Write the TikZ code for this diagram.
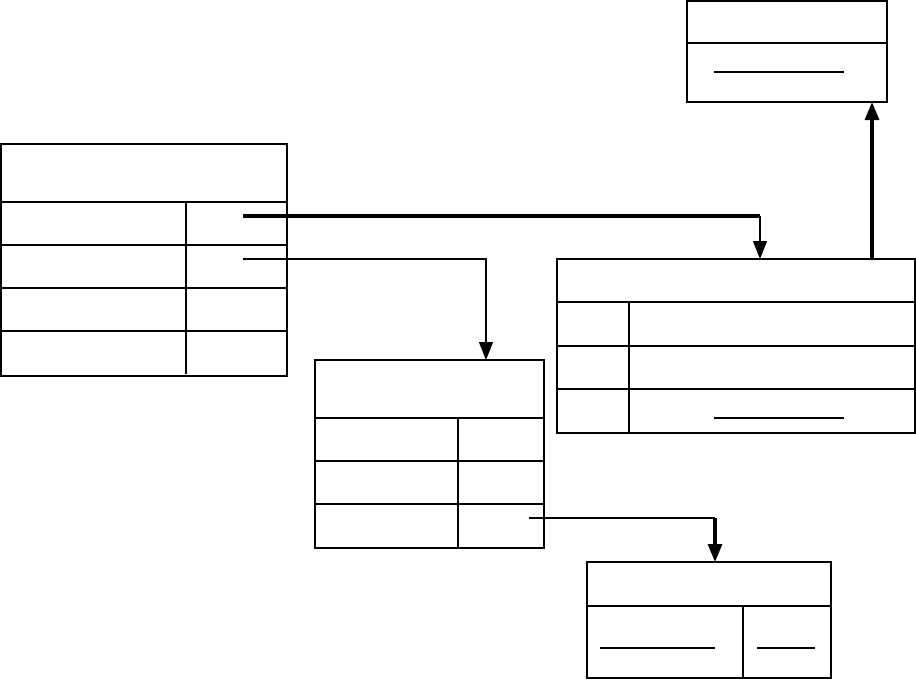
\documentclass[tikz,border=0pt]{standalone}
\usetikzlibrary{arrows.meta}
\begin{document}
\begin{tikzpicture}[x=0.75pt,y=-0.75pt,
  tbl/.style={draw,line width=0.85pt,inner sep=0pt,outer sep=0pt,rectangle},
  sep/.style={line width=0.85pt},
  thickdiv/.style={line width=2.1pt},
  ul/.style={line width=0.85pt},
  link/.style={line width=0.85pt},
  boldlink/.style={line width=2.3pt},
  tip/.style={-{Triangle[length=13.5pt,width=10.5pt]}}]
\useasboundingbox (0,0) rectangle (916,679);
% tables
\node[tbl,minimum width=214.5pt,minimum height=174pt] (A) at (144,260) {};
\node[tbl,minimum width=150pt,minimum height=75.75pt] (B) at (787,51.5) {};
\node[tbl,minimum width=268.5pt,minimum height=130.5pt] (C) at (736,346) {};
\node[tbl,minimum width=171.75pt,minimum height=141pt] (D) at (429.5,454) {};
\node[tbl,minimum width=183pt,minimum height=87pt] (E) at (709,620) {};
% table A rows
\foreach \yy in {202,245,288,331}
  \draw[sep] (A.west |- 0,\yy) -- (A.east |- 0,\yy);
\draw[sep] (186,202) -- (186,374);
% table B
\draw[sep] (B.west |- 0,43) -- (B.east |- 0,43);
\draw[ul] (714,72) -- (844,72);
% table C
\foreach \yy in {302,346,389}
  \draw[sep] (C.west |- 0,\yy) -- (C.east |- 0,\yy);
\draw[sep] (629,302) -- (629,433);
\draw[ul] (714,418) -- (844,418);
% table D
\foreach \yy in {418,461,504}
  \draw[sep] (D.west |- 0,\yy) -- (D.east |- 0,\yy);
\draw[thickdiv] (458,418) -- (458,548);
% table E
\draw[sep] (E.west |- 0,606) -- (E.east |- 0,606);
\draw[thickdiv] (743,606) -- (743,678);
\draw[ul] (600,648) -- (715,648);
\draw[ul] (757,648) -- (815,648);
% connectors
\coordinate (a1) at (243,216);
\coordinate (k1) at (760,216);
\coordinate (a2) at (243,259);
\coordinate (k2) at (486,259);
\coordinate (d3) at (529,518);
\coordinate (k3) at (715,518);
\coordinate (c4) at (872,259);
\draw[boldlink] (a1) -- (k1);
\draw[link,tip] (k1) -- (k1 |- C.north);
\draw[link,tip] (a2) -- (k2) -- (k2 |- D.north);
\draw[link] (d3) -- (k3);
\draw[boldlink,tip] (k3) -- (k3 |- E.north);
\draw[boldlink,tip] (c4) -- (c4 |- B.south);
\end{tikzpicture}
\end{document}
